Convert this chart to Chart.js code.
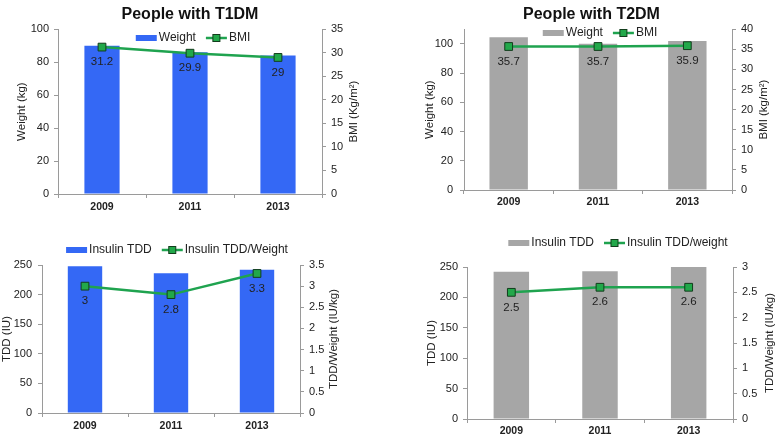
<!DOCTYPE html>
<html>
<head>
<meta charset="utf-8">
<script src="https://cdn.jsdelivr.net/npm/chart.js@4.4.0/dist/chart.umd.min.js"></script>
<style>
  html, body { margin: 0; padding: 0; background: #fff; }
  body { width: 779px; height: 439px; position: relative; overflow: hidden; }
  canvas { position: absolute; }
</style>
</head>
<body>
<canvas id="c1" width="390" height="220" style="left:0;top:0"></canvas>
<canvas id="c2" width="389" height="220" style="left:390px;top:0"></canvas>
<canvas id="c3" width="390" height="219" style="left:0;top:220px"></canvas>
<canvas id="c4" width="389" height="219" style="left:390px;top:220px"></canvas>
<script>
// data
const years = ['2009', '2011', '2013'];

const t1Weight = [90, 86, 84];
const t1Bmi = [31.2, 29.9, 29];
const t2Weight = [104.5, 100, 102];
const t2Bmi = [35.7, 35.7, 35.9];

const t1Tdd = [248, 236, 242];
const t1TddPerKg = [3, 2.8, 3.3];
const t2Tdd = [242, 243, 252];
const t2TddPerKg = [2.5, 2.6, 2.6];

const blue = '#3468f5';
const grey = '#a6a6a6';
const lineGreen = '#1fa34f';
const axisGrey = '#9a9a9a';

Chart.defaults.font.family = '"Liberation Sans", Arial, sans-serif';
Chart.defaults.color = '#222';

// legend: bar swatch + line-with-marker, drawn at a fixed spot
const comboLegend = {
  id: 'comboLegend',
  afterDraw(chart, args, opts) {
    const ctx = chart.ctx;
    const sw = 21, gap = 2, itemGap = 10;
    ctx.save();
    ctx.font = '12px "Liberation Sans", Arial, sans-serif';
    ctx.textBaseline = 'middle';
    const items = chart.data.datasets.map(ds => ({ ds, w: sw + gap + ctx.measureText(ds.label).width }));
    const total = items.reduce((s, it) => s + it.w, 0) + itemGap * (items.length - 1);
    let x = opts.x - total / 2;
    const y = opts.y;
    items.forEach(({ ds, w }) => {
      if (ds.type === 'line') {
        ctx.strokeStyle = ds.borderColor;
        ctx.lineWidth = ds.borderWidth;
        ctx.beginPath();
        ctx.moveTo(x, y);
        ctx.lineTo(x + sw, y);
        ctx.stroke();
        ctx.fillStyle = ds.pointBackgroundColor;
        ctx.strokeStyle = ds.pointBorderColor;
        ctx.lineWidth = 1;
        ctx.fillRect(x + sw / 2 - 3.5, y - 3.5, 7, 7);
        ctx.strokeRect(x + sw / 2 - 3.5, y - 3.5, 7, 7);
      } else {
        ctx.fillStyle = ds.backgroundColor;
        ctx.fillRect(x, y - 3, sw, 6);
      }
      ctx.fillStyle = '#222';
      ctx.fillText(ds.label, x + sw + gap, y);
      x += w + itemGap;
    });
    ctx.restore();
  }
};

// value labels under the line points
const pointLabels = {
  id: 'pointLabels',
  afterDatasetsDraw(chart) {
    const ctx = chart.ctx;
    ctx.save();
    ctx.font = '11.5px "Liberation Sans", Arial, sans-serif';
    ctx.fillStyle = '#222';
    ctx.textAlign = 'center';
    ctx.textBaseline = 'middle';
    chart.data.datasets.forEach((ds, i) => {
      if (ds.type !== 'line') return;
      chart.getDatasetMeta(i).data.forEach((pt, j) => {
        ctx.fillText(String(ds.data[j]), pt.x, pt.y + 15);
      });
    });
    ctx.restore();
  }
};

// right axis title reading bottom-to-top, like the left one
const rightTitle = {
  id: 'rightTitle',
  afterDraw(chart, args, opts) {
    const ctx = chart.ctx;
    const area = chart.chartArea;
    ctx.save();
    ctx.font = '11.5px "Liberation Sans", Arial, sans-serif';
    ctx.fillStyle = '#222';
    ctx.textAlign = 'center';
    ctx.textBaseline = 'middle';
    ctx.translate(opts.x, (area.top + area.bottom) / 2);
    ctx.rotate(-Math.PI / 2);
    ctx.fillText(opts.text, 0, 0);
    ctx.restore();
  }
};

function comboChart(id, p) {
  const axisGrid = { display: true, drawOnChartArea: false, drawTicks: true, tickLength: 4, color: axisGrey };
  return new Chart(document.getElementById(id), {
    type: 'bar',
    data: {
      labels: years,
      datasets: [
        {
          type: 'bar',
          label: p.barLabel,
          data: p.bars,
          yAxisID: 'y',
          order: 1,
          backgroundColor: p.barColor,
          barPercentage: p.barPct,
          categoryPercentage: 1
        },
        {
          type: 'line',
          label: p.lineLabel,
          data: p.line,
          yAxisID: 'y1',
          order: 0,
          borderColor: lineGreen,
          borderWidth: 2.5,
          pointStyle: 'rect',
          pointRadius: 5.5,
          pointBackgroundColor: '#22a84a',
          pointBorderColor: '#123d1c',
          pointBorderWidth: 1,
          tension: 0,
          clip: false
        }
      ]
    },
    options: {
      responsive: false,
      animation: false,
      events: [],
      layout: { padding: p.padding },
      plugins: {
        legend: { display: false },
        tooltip: { enabled: false },
        title: p.title
          ? { display: true, text: p.title, color: '#111', font: { size: 16, weight: 'bold' }, padding: { top: 5, bottom: 5 } }
          : { display: false },
        comboLegend: p.legend,
        rightTitle: p.rightTitle
      },
      scales: {
        x: {
          grid: axisGrid,
          border: { color: axisGrey },
          ticks: { font: { size: 10.5, weight: 'bold' }, padding: p.xPad },
          afterFit: s => { s.height = p.xHeight; }
        },
        y: {
          position: 'left',
          min: 0,
          max: p.yMax,
          grid: axisGrid,
          border: { color: axisGrey },
          ticks: { stepSize: p.yStep, includeBounds: false, padding: p.yPad, font: { size: 11 } },
          title: { display: true, text: p.yTitle, font: { size: 11.5 }, padding: { top: p.yTitlePad, bottom: 0 } },
          afterFit: s => { s.width = p.yWidth; }
        },
        y1: {
          position: 'right',
          min: 0,
          max: p.y1Max,
          grid: axisGrid,
          border: { color: axisGrey },
          ticks: { stepSize: p.y1Step, padding: 5, font: { size: 11 }, callback: v => `${v}` },
          afterFit: s => { s.width = p.y1Width; }
        }
      }
    },
    plugins: [comboLegend, pointLabels, rightTitle]
  });
}

comboChart('c1', {
  title: 'People with T1DM',
  barLabel: 'Weight', lineLabel: 'BMI',
  bars: t1Weight, line: t1Bmi, barColor: blue, barPct: 0.4,
  yMax: 100, yStep: 20, yTitle: 'Weight (kg)', yWidth: 58, yTitlePad: 15, yPad: 5,
  y1Max: 35, y1Step: 5, y1Width: 58,
  xHeight: 26, xPad: 3,
  padding: { left: 0, right: 10, top: 0, bottom: 0 },
  legend: { x: 193, y: 38 },
  rightTitle: { x: 354, text: 'BMI (Kg/m²)' }
});

comboChart('c2', {
  title: 'People with T2DM',
  barLabel: 'Weight', lineLabel: 'BMI',
  bars: t2Weight, line: t2Bmi, barColor: grey, barPct: 0.43,
  yMax: 110, yStep: 20, yTitle: 'Weight (kg)', yWidth: 60, yTitlePad: 19, yPad: 7,
  y1Max: 40, y1Step: 5, y1Width: 47,
  xHeight: 30, xPad: 2,
  padding: { left: 14, right: 0, top: 0, bottom: 0 },
  legend: { x: 210, y: 33 },
  rightTitle: { x: 374, text: 'BMI (kg/m²)' }
});

comboChart('c3', {
  title: null,
  barLabel: 'Insulin TDD', lineLabel: 'Insulin TDD/Weight',
  bars: t1Tdd, line: t1TddPerKg, barColor: blue, barPct: 0.4,
  yMax: 250, yStep: 50, yTitle: 'TDD (IU)', yWidth: 42, yTitlePad: 0, yPad: 6,
  y1Max: 3.5, y1Step: 0.5, y1Width: 90,
  xHeight: 26, xPad: 3,
  padding: { left: 0, right: 0, top: 45, bottom: 0 },
  legend: { x: 177, y: 30 },
  rightTitle: { x: 334, text: 'TDD/Weight (IU/kg)' }
});

comboChart('c4', {
  title: null,
  barLabel: 'Insulin TDD', lineLabel: 'Insulin TDD/weight',
  bars: t2Tdd, line: t2TddPerKg, barColor: grey, barPct: 0.4,
  yMax: 250, yStep: 50, yTitle: 'TDD (IU)', yWidth: 77, yTitlePad: 35, yPad: 5,
  y1Max: 3, y1Step: 0.5, y1Width: 46,
  xHeight: 20, xPad: 2,
  padding: { left: 0, right: 0, top: 47, bottom: 0 },
  legend: { x: 228, y: 23 },
  rightTitle: { x: 380, text: 'TDD/Weight (IU/kg)' }
});
</script>
</body>
</html>
